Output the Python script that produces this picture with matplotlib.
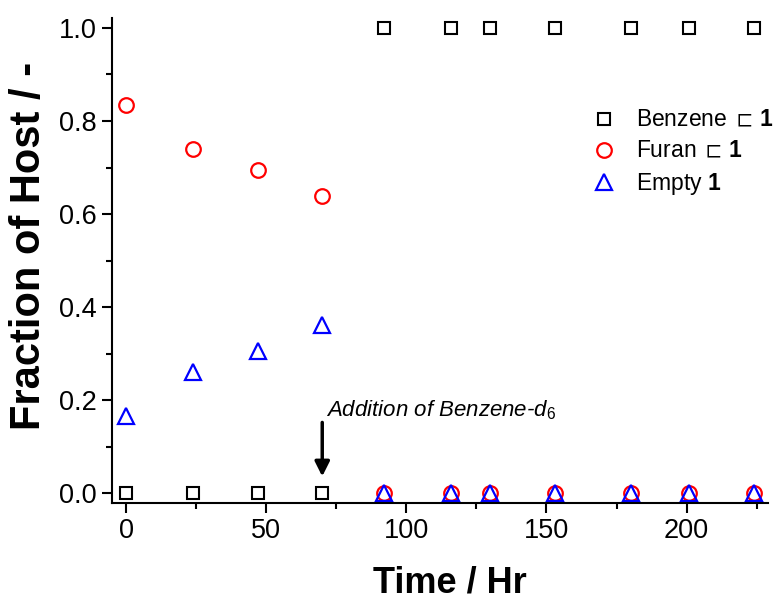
import matplotlib
matplotlib.use("Agg")
import matplotlib.pyplot as plt
from matplotlib.ticker import MultipleLocator

plt.rcParams['font.family'] = ['Liberation Sans', 'DejaVu Sans']
plt.rcParams['mathtext.fontset'] = 'custom'
plt.rcParams['mathtext.rm'] = 'Liberation Sans'
plt.rcParams['mathtext.it'] = 'Liberation Sans:italic'
plt.rcParams['mathtext.bf'] = 'Liberation Sans:bold'
plt.rcParams['mathtext.fallback'] = 'stixsans'

# sampling times (hours)
time_hr = [0, 24, 47, 70, 92, 116, 130, 153, 180, 201, 224]

# fraction of host in each state
benzene = [0, 0, 0, 0, 1, 1, 1, 1, 1, 1, 1]
furan = [0.835, 0.740, 0.695, 0.638, 0, 0, 0, 0, 0, 0, 0]
empty = [0.165, 0.260, 0.305, 0.362, 0, 0, 0, 0, 0, 0, 0]

# benzene-d6 added at this time
t_add = 70

fig = plt.figure(figsize=(7.78, 5.99), dpi=100)
ax = fig.add_axes([0.144, 0.160, 0.843, 0.810])

ax.plot(time_hr, benzene, ls='none', marker='s', ms=9, mfc='none', mec='black', mew=1.5,
        label='Benzene ${\\sqsubset}\\,\\mathbf{1}$')
ax.plot(time_hr, furan, ls='none', marker='o', ms=10.5, mfc='none', mec='red', mew=1.6,
        label='Furan ${\\sqsubset}\\,\\mathbf{1}$')
ax.plot(time_hr, empty, ls='none', marker='^', ms=12, mfc='none', mec='blue', mew=1.6,
        label='Empty $\\mathbf{1}$')

ax.set_xlim(-5, 229)
ax.set_ylim(-0.0215, 1.0215)
ax.xaxis.set_major_locator(MultipleLocator(50))
ax.xaxis.set_minor_locator(MultipleLocator(25))
ax.yaxis.set_major_locator(MultipleLocator(0.2))
ax.yaxis.set_minor_locator(MultipleLocator(0.1))
ax.yaxis.set_major_formatter(plt.FormatStrFormatter('%.1f'))

for side in ['top', 'right']:
    ax.spines[side].set_visible(False)
for side in ['left', 'bottom']:
    ax.spines[side].set_linewidth(1.5)

ax.tick_params(which='major', direction='out', length=7, width=1.5, labelsize=19.5, pad=4)
ax.tick_params(which='minor', direction='out', length=4, width=1.5)

ax.set_xlabel('Time / Hr', fontsize=26, fontweight='bold', labelpad=15)
ax.xaxis.label.set_x(0.515)
ax.set_ylabel('Fraction of Host / -', fontsize=30, fontweight='bold', labelpad=7)
ax.yaxis.label.set_y(0.53)

# arrow marking the addition of benzene-d6
ax.annotate('', xy=(t_add, 0.030), xytext=(t_add, 0.158),
            arrowprops=dict(arrowstyle='-|>', color='black', lw=2.5, mutation_scale=22))
ax.text(t_add + 1.5, 0.166, 'Addition of Benzene-$\\mathit{d}_{\\mathit{6}}$',
        fontsize=16, style='italic', ha='left', va='baseline')

ax.legend(loc='upper right', bbox_to_anchor=(1.04, 0.855), frameon=False, fontsize=16.5,
          handletextpad=0.8, labelspacing=0.35, handlelength=1.2)

fig.savefig('out.png', dpi=100)
